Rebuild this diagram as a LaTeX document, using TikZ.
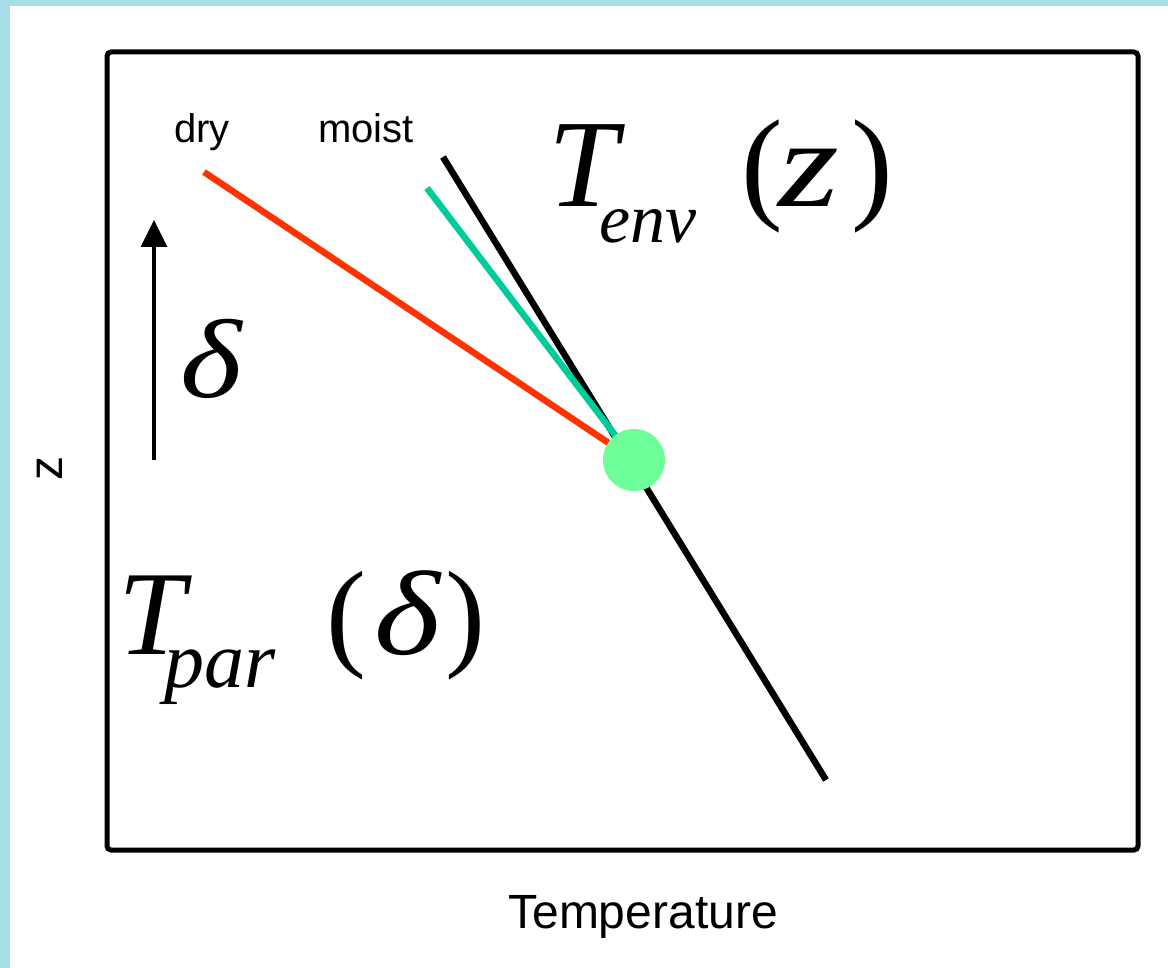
\documentclass[tikz,border=0pt]{standalone}
\usepackage{fontspec}
\newfontfamily\tms{Liberation Serif}
\newfontfamily\arl{Liberation Sans}
\usetikzlibrary{arrows.meta}
\definecolor{bgblue}{HTML}{A9DDE8}
\definecolor{dryred}{HTML}{FF3300}
\definecolor{moistteal}{HTML}{00CC99}
\definecolor{parcelgreen}{HTML}{6EFF9A}
\tikzset{
  lbl/.style={inner sep=0pt, font=\arl\fontsize{40}{40}\selectfont, anchor=base west},
  axlbl/.style={inner sep=0pt, font=\arl\fontsize{48}{48}\selectfont},
  mth/.style={inner sep=0pt, anchor=base west},
  profile/.style={line width=6.5pt},
  dot/.style={circle, fill=parcelgreen, minimum size=62pt, inner sep=0pt}
}
\begin{document}
\begin{tikzpicture}[x=1pt,y=-1pt]
\useasboundingbox (0,0) rectangle (1168,968);
\fill[bgblue] (0,0) rectangle (1168,968);
\fill[white] (10,6) rectangle (1168,968);
\draw[line width=5pt, rounded corners=4pt] (107,52) rectangle (1138,850);
% profiles
\coordinate (pc) at (634,460);
\coordinate (envtop) at (443,157);
\coordinate (envbot) at (826,780);
\coordinate (drytop) at (204,172);
\coordinate (moisttop) at (427,188);
\draw[profile, black] (envtop) -- (envbot);
\draw[profile, dryred] (drytop) -- (pc);
\draw[profile, moistteal] (moisttop) -- (pc);
\node[dot] (p) at (pc) {};
% labels
\node[lbl] (dry) at (174,143) {dry};
\node[lbl] (moist) at (318,143) {moist};
\node[axlbl, anchor=base] (temp) at (643,928) {Temperature};
\node[axlbl, rotate=90] (zax) at (50,468) {z};
% arrow
\coordinate (abot) at (154,460);
\coordinate (atop) at (154,220);
\draw[line width=3.5pt, -{Triangle[length=27pt,width=26pt]}] (abot) -- (atop);
\node[mth, font=\tms\itshape\fontsize{112}{112}\selectfont] (delta) at (180,398) {\scalebox{1.18}[1]{δ}};
% formulas
\node[mth, font=\tms\fontsize{125}{125}\selectfont] (tenv) at (548,207)
  {\itshape T\kern-18pt\raisebox{-36pt}{\fontsize{70}{70}\selectfont env}\kern45pt\upshape(\kern-5pt\itshape\scalebox{1.25}[1]{z}\kern12pt\upshape)};
\node[mth, font=\tms\fontsize{120}{120}\selectfont] (tpar) at (118,654)
  {\itshape T\kern-20pt\raisebox{-33pt}{\fontsize{80}{80}\selectfont par}\kern50pt\upshape(\kern8pt\itshape\scalebox{1.18}[1]{δ}\kern6pt\upshape)};
\end{tikzpicture}
\end{document}
